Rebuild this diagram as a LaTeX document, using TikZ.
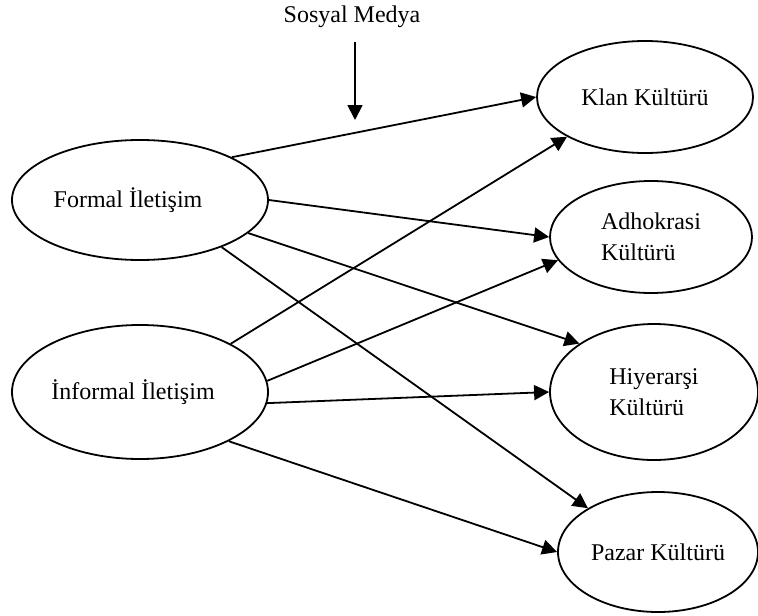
\documentclass[tikz,border=0pt]{standalone}
\usepackage{fontspec}
\setmainfont{Liberation Serif}
\usetikzlibrary{positioning,shapes.geometric,arrows.meta}

\tikzset{
  kultur/.style={draw, ellipse, line width=0.9pt, inner sep=0pt, align=left, font=\fontsize{12}{15.5}\selectfont},
  arr/.style={-{Triangle[length=7.5pt,width=7.5pt]}, line width=0.9pt},
}

\begin{document}
\begin{tikzpicture}[x=0.5pt, y=-0.5pt]
                \useasboundingbox (0,0) rectangle (758,615);
                \node[font=\fontsize{12}{14}\selectfont] (sm) at (352,17) {Sosyal Medya};
                \coordinate (smtop) at (355,42);
                \coordinate (smtip) at (355,120);
                \node[kultur, minimum width=128pt, minimum height=60pt] (formal) at (140,200) {Formal İletişim\hspace{12pt}};
                \node[kultur, minimum width=128pt, minimum height=67pt] (informal) at (140,392) {İnformal İletişim\hspace{7pt}};
                \node[kultur, minimum width=108pt, minimum height=56pt] (klan) at (645,97) {Klan Kültürü};
                \node[kultur, minimum width=101pt, minimum height=56pt] (adho) at (651,237) {Adhokrasi\\Kültürü};
                \node[kultur, minimum width=104pt, minimum height=68pt] (hiye) at (654,392) {Hiyerarşi\\Kültürü};
                \node[kultur, minimum width=100pt, minimum height=60pt] (pazar) at (658,552) {Pazar Kültürü};
                % sosyal medya etkisi
                \draw[arr] (smtop) -- (smtip);
                % formal iletisim
                \draw[arr] (formal.25) -- (klan.180);
                \draw[arr] (formal.0) -- (adho.180);
                \draw[arr] (formal.-17) -- (hiye.147);
                \draw[arr] (formal.-30) -- (pazar.148);
                % informal iletisim
                \draw[arr] (informal.28) -- (klan.207);
                \draw[arr] (informal.5) -- (adho.194);
                \draw[arr] (informal.-5) -- (hiye.180);
                \draw[arr] (informal.-29) -- (pazar.180);
\end{tikzpicture}
\end{document}
